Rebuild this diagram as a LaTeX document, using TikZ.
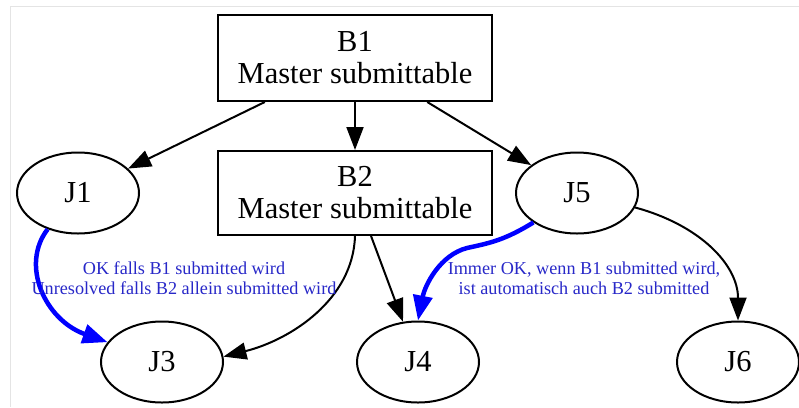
\documentclass[tikz,border=0pt]{standalone}
\usepackage{fontspec}
\setmainfont{Liberation Serif}
\usetikzlibrary{arrows.meta,shapes.geometric}
\definecolor{frame}{RGB}{228,228,228}
\definecolor{lbl}{RGB}{40,40,200}
\tikzset{
  box/.style={draw, line width=2pt, rectangle, minimum width=274pt, minimum height=86pt, inner sep=0pt, align=center, font=\fontsize{30.5}{32}\selectfont},
  oval/.style={draw, line width=2pt, ellipse, minimum width=122pt, minimum height=81pt, inner sep=0pt, font=\fontsize{30.5}{32}\selectfont},
  edge/.style={line width=2pt, -{Triangle[length=23pt,width=17pt]}},
  bedge/.style={line width=4.5pt, blue, -{Triangle[length=25pt,width=19pt]}},
  elabel/.style={text=lbl, align=center, font=\fontsize{18.2}{20}\selectfont, inner sep=0pt}
}
\begin{document}
\begin{tikzpicture}[x=1pt,y=-1pt]
\useasboundingbox (0,0) rectangle (799,407);
\draw[frame, line width=1pt] (10,407) -- (10,6) -- (799,6);
\node[box] (B1) at (355,58) {B1\\Master submittable};
\node[box, minimum height=84pt] (B2) at (355,193) {B2\\Master submittable};
\node[oval] (J1) at (78,193) {J1};
\node[oval] (J5) at (577,193) {J5};
\node[oval] (J3) at (162,362) {J3};
\node[oval] (J4) at (418,362) {J4};
\node[oval] (J6) at (738,362) {J6};
\draw[edge] (B1) -- (J1);
\draw[edge] (B1) -- (B2);
\draw[edge] (B1) -- (J5);
\draw[edge] (B2.south) .. controls (353,300) and (290,340) .. (J3.5);
\draw[edge] (B2) -- (J4);
\draw[edge] (J5.-14) .. controls (700,225) and (738,265) .. (J6.north);
\draw[bedge] (J1.230) .. controls (20,265) and (45,320) .. (J3.160);
\draw[bedge] (J5.214) .. controls (505,240) and (490,243) .. (467,248) .. controls (440,255) and (425,285) .. (J4.north);
\node[elabel] (L1) at (184,278) {OK falls B1 submitted wird\\Unresolved falls B2 allein submitted wird};
\node[elabel] (L2) at (584,278) {Immer OK, wenn B1 submitted wird,\\ist automatisch auch B2 submitted};
\end{tikzpicture}
\end{document}
